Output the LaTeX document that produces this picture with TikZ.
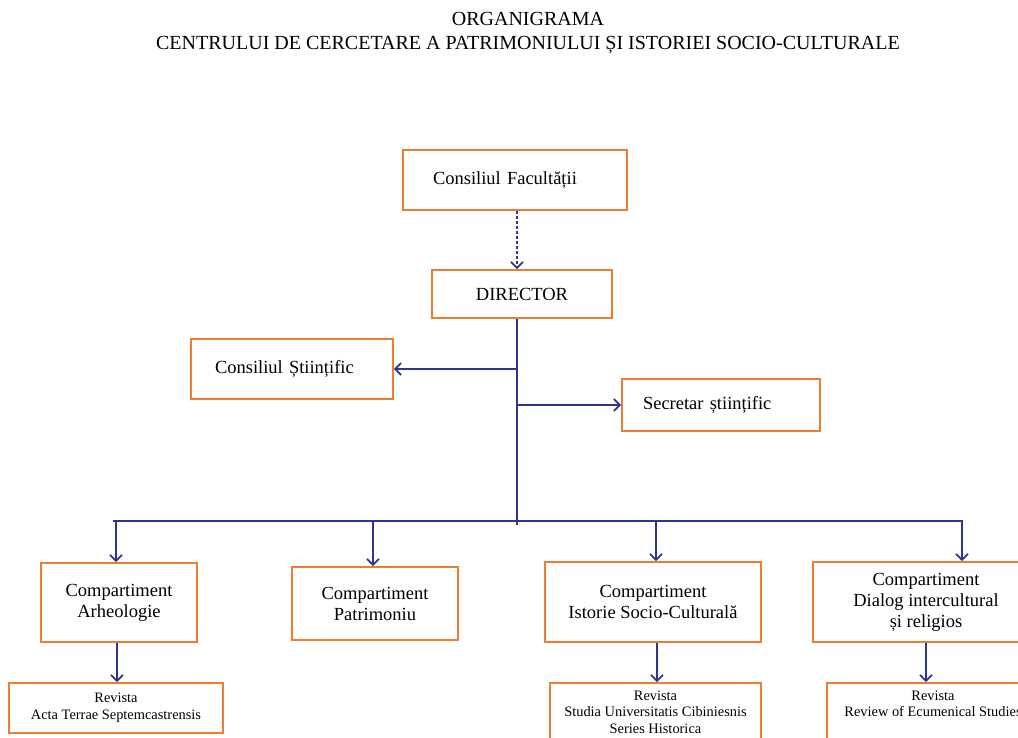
\documentclass[tikz,border=0pt]{standalone}
\usepackage{fontspec}
\setmainfont{Liberation Serif}
\usetikzlibrary{arrows.meta}
\definecolor{boxor}{RGB}{237,125,49}
\definecolor{lineblue}{RGB}{47,54,145}
\begin{document}
\begin{tikzpicture}[x=1pt,y=-1pt,
  box/.style={draw=boxor, line width=1.8pt, inner sep=0pt, align=center, font=\fontsize{18.5}{21}\selectfont},
  small/.style={box, font=\fontsize{14.4}{16.5}\selectfont},
  conn/.style={draw=lineblue, line width=1.7pt},
  arr/.style={conn, -{Straight Barb[length=6pt,width=12pt]}}]
\fill[white] (0,0) rectangle (1018,738);
\useasboundingbox (0,0) rectangle (1018,738);
\clip (0,0) rectangle (1018,738);

\node[font=\fontsize{20}{24}\selectfont, align=center] (title) at (528,33)
  {ORGANIGRAMA\\CENTRULUI DE CERCETARE A PATRIMONIULUI ȘI ISTORIEI SOCIO-CULTURALE};

\node[box, minimum width=224, minimum height=60, text width=164, inner xsep=30, align=left] (cf) at (515,180) {Consiliul Facultății};
\node[box, minimum width=180, minimum height=48] (dir) at (522,294) {DIRECTOR};
\node[box, minimum width=202, minimum height=60, text width=154, inner xsep=24, align=left] (cs) at (292,369) {Consiliul Științific};
\node[box, minimum width=198, minimum height=52, text width=156, inner xsep=21, align=left] (ss) at (721,405) {Secretar științific};

\node[box, minimum width=156, minimum height=79] (arh) at (119,602.5) {Compartiment\\Arheologie};
\node[box, minimum width=166, minimum height=73] (pat) at (375,603.5) {Compartiment\\Patrimoniu};
\node[box, minimum width=216, minimum height=80] (ist) at (653,602) {Compartiment\\Istorie Socio-Culturală};
\node[box, minimum width=226, minimum height=80] (dia) at (926,602) {Compartiment\\Dialog intercultural\\și religios};

\node[small, minimum width=214, minimum height=50] (reva) at (116,708) {Revista\\Acta Terrae Septemcastrensis};
\node[small, minimum width=211, minimum height=58] (revs) at (655.5,712) {Revista\\Studia Universitatis Cibiniesnis\\Series Historica};
\node[small, minimum width=212, minimum height=58] (revr) at (933,712) {Revista\\Review of Ecumenical Studies\\~};

\coordinate (spine) at (517,525);
\coordinate (hl) at (113,521);
\coordinate (hr) at (963,521);
\coordinate (b1) at (116,521);
\coordinate (b2) at (373,521);
\coordinate (b3) at (656,521);
\coordinate (b4) at (962,521);

\draw[arr, dash pattern=on 3pt off 2pt] (cf.south -| spine) -- (dir.north -| spine);
\draw[conn] (dir.south -| spine) -- (spine);
\draw[arr] (spine |- cs.east) -- (cs.east);
\draw[arr] (spine |- ss.west) -- (ss.west);
\draw[conn] (hl) -- (hr);
\draw[arr] (b1) -- (b1 |- arh.north);
\draw[arr] (b2) -- (b2 |- pat.north);
\draw[arr] (b3) -- (b3 |- ist.north);
\draw[arr] (b4) -- (b4 |- dia.north);

\draw[arr] ([xshift=-2pt]arh.south) -- ([xshift=-2pt]arh.south |- reva.north);
\draw[arr] ([xshift=4pt]ist.south) -- ([xshift=4pt]ist.south |- revs.north);
\draw[arr] (dia.south) -- (dia.south |- revr.north);
\end{tikzpicture}
\end{document}
